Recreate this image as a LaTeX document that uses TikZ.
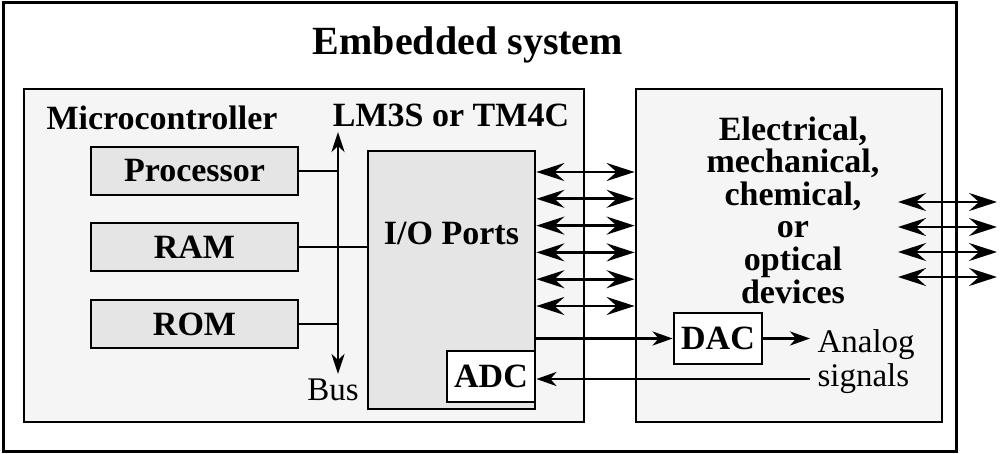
\documentclass[tikz,border=0pt]{standalone}
\usepackage{fontspec}
\setmainfont{Liberation Serif}
\usetikzlibrary{arrows.meta}

\tikzset{
  box/.style={draw, line width=2.8pt, inner sep=0pt},
  unit/.style={box, fill=black!10, minimum width=207pt, minimum height=48pt},
  lbl/.style={font=\fontsize{34}{36}\selectfont\bfseries},
  link/.style={line width=2.8pt},
  onehead/.style={link, -{Stealth[length=20pt,width=14pt,inset=6pt]}},
  twohead/.style={link, {Stealth[length=28pt,width=18pt,inset=10pt]}-{Stealth[length=28pt,width=18pt,inset=10pt]}},
  bushead/.style={link, {Stealth[length=20pt,width=13pt,inset=6pt]}-{Stealth[length=20pt,width=13pt,inset=6pt]}},
}

\begin{document}
\begin{tikzpicture}[x=1pt,y=-1pt]
        \useasboundingbox (0,0) rectangle (1000,454);

        % frames
        \node [box, line width=3pt, minimum width=953pt, minimum height=448pt] (sys) at (479.5,227) {};
        \node [lbl, font=\fontsize{40}{42}\selectfont\bfseries] (title) at (468,45) {Embedded system};
        \node [box, fill=black!4, minimum width=560pt, minimum height=333pt] (mcu) at (304,255.5) {};
        \node [box, fill=black!4, minimum width=306pt, minimum height=333pt] (dev) at (789,255.5) {};

        \node [lbl] (mculbl) at (162,118) {Microcontroller};
        \node [lbl] (chip) at (451,115) {LM3S or TM4C};
        \node [lbl, align=center, font=\fontsize{34}{32.6}\selectfont\bfseries] (devlbl) at (793,210)
              {Electrical,\\mechanical,\\chemical,\\or\\optical\\devices};

        % blocks
        \node [unit] (proc) at (194.5,171) {};
        \node [unit] (ram) at (194.5,247) {};
        \node [unit] (rom) at (194.5,324) {};
        \node [lbl] at (proc) {Processor};
        \node [lbl] at (ram) {RAM};
        \node [lbl] at (rom) {ROM};

        \node [box, fill=black!10, minimum width=167pt, minimum height=258pt] (io) at (451.5,280) {};
        \node [lbl] (iolbl) at (451.5,233) {I/O Ports};
        \node [box, fill=white, minimum width=88pt, minimum height=51pt, lbl] (adc) at (491,376.5) {ADC};
        \node [box, fill=white, minimum width=88pt, minimum height=51pt, lbl] (dac) at (718,338.5) {DAC};

        % bus
        \coordinate (bustop) at (338,132);
        \coordinate (busbot) at (338,374);
        \draw [bushead] (bustop) -- (busbot);
        \node [font=\fontsize{33}{35}\selectfont] (buslbl) at (333,390) {Bus};
        \draw [link] (proc.east) -- (proc.east -| bustop);
        \draw [link] (ram.east) -- (ram.east -| io.west);
        \draw [link] (rom.east) -- (rom.east -| bustop);

        % ports
        \foreach \y in {172,198.8,225.6,252.4,279.2,306}
            \draw [twohead] (io.east |- 0,\y) -- (dev.west |- 0,\y);
        \foreach \y in {202,227,252,277}
            \draw [twohead] (898,\y) -- (997,\y);

        % analog
        \coordinate (anout) at (810,338.5);
        \coordinate (anin) at (810,379);
        \draw [onehead] (dac.west -| io.east) -- (dac.west);
        \draw [onehead] (dac.east) -- (anout);
        \draw [onehead] (anin) -- (anin -| adc.east);
        \node [font=\fontsize{33}{34}\selectfont, align=left, anchor=west] (analog) at (814,362) {Analog\\signals};
\end{tikzpicture}
\end{document}
